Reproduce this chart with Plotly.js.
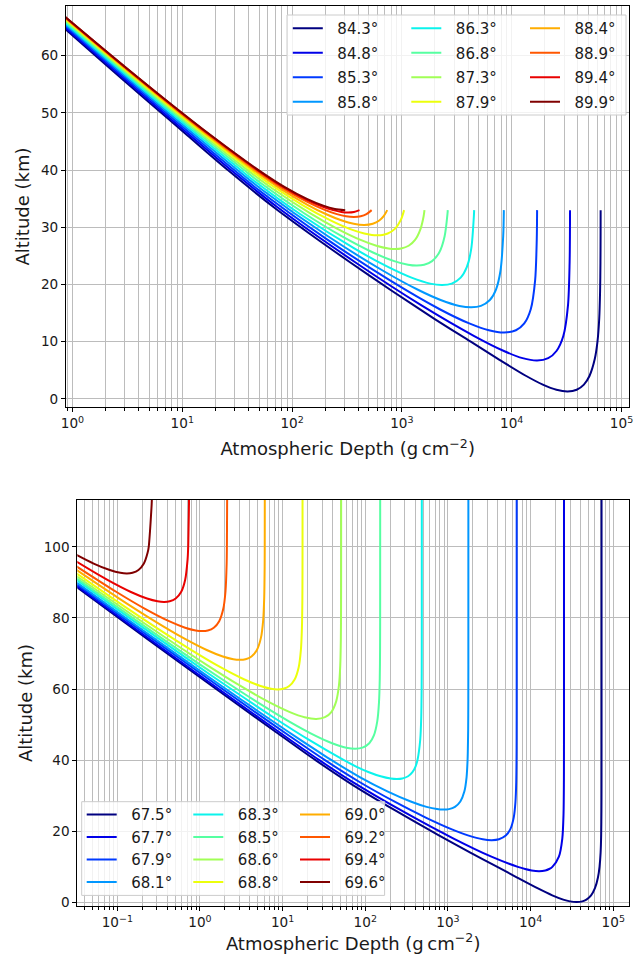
<!DOCTYPE html>
<html><head><meta charset="utf-8">
<script src="https://cdn.plot.ly/plotly-3.0.1.min.js"></script>
<style>html,body{margin:0;padding:0;background:#fff}#chart{width:634px;height:959px}</style>
</head><body><div id="chart"></div>
<script>
// ---------- legend labels ----------
const topLabels = ['84.3°','84.8°','85.3°','85.8°','86.3°','86.8°','87.3°','87.9°','88.4°','88.9°','89.4°','89.9°'];
const bottomLabels = ['67.5°','67.7°','67.9°','68.1°','68.3°','68.5°','68.6°','68.8°','69.0°','69.2°','69.4°','69.6°'];
const jetColors = ['#000080','#0000e8','#003aff','#0097ff','#0bf3ec','#56ffa1','#a1ff56','#ecff0b','#ffad00','#ff5700','#e90100','#800000'];

// ---------- tick values / labels ----------
const topXTicks = [1,10,100,1000,10000,100000];
const topXTickText = ['10<sup>0</sup>','10<sup>1</sup>','10<sup>2</sup>','10<sup>3</sup>','10<sup>4</sup>','10<sup>5</sup>'];
const topXMinor = [0.9,2,3,4,5,6,7,8,9,20,30,40,50,60,70,80,90,200,300,400,500,600,700,800,900,2000,3000,4000,5000,6000,7000,8000,9000,20000,30000,40000,50000,60000,70000,80000,90000];
const topYTicks = [0,10,20,30,40,50,60];
const botXTicks = [0.1,1,10,100,1000,10000,100000];
const botXTickText = ['10<sup>\u22121</sup>','10<sup>0</sup>','10<sup>1</sup>','10<sup>2</sup>','10<sup>3</sup>','10<sup>4</sup>','10<sup>5</sup>'];
const botXMinor = [0.04,0.05,0.06,0.07,0.08,0.09,0.2,0.3,0.4,0.5,0.6,0.7,0.8,0.9,2,3,4,5,6,7,8,9,20,30,40,50,60,70,80,90,200,300,400,500,600,700,800,900,2000,3000,4000,5000,6000,7000,8000,9000,20000,30000,40000,50000,60000,70000,80000,90000];
const botYTicks = [0,20,40,60,80,100];

// ---------- top panel: depth (g/cm2) and altitude (km) ----------
const t843Depth = [0.5439,1.623,4.884,11.23,25.99,68.08,147.8,339.4,814.9,1977,4237,7492,13563,19198,25561,32322,39083,45446,51081,57152,60407,62667,63829,64305,64496,64570];
const t843Alt   = [68,60,52,46,40,33.5,28.74,23.85,18.86,14,10,7,4,2.5,1.6,1.3,1.6,2.5,4,7,10,14,18.86,23.85,28.74,33];
const t848Depth = [0.5651,1.696,5.133,11.87,27.73,73.57,378.4,1509,4557,8496,12568,17034,21500,25572,29511,32559,33690,33988];
const t848Alt   = [68,60,52,46,40,33.5,23.85,16.35,10.99,8.375,7.119,6.7,7.119,8.375,10.99,16.35,23.85,33];
const t853Depth = [0.5867,1.768,5.394,12.58,29.63,45.67,208.0,772.9,2212,4108,6197,8561,10925,13014,14910,16349,16914,17036];
const t853Alt   = [68,60,52,46,40,37.05,27.89,20.76,15.67,13.19,12.0,11.6,12.0,13.19,15.67,20.76,27.89,33];
const t858Depth = [0.6085,1.845,5.672,13.31,31.74,52.87,210.5,679.9,1386,2253,3335,4289,5243,6326,7192,7899,8368,8483];
const t858Alt   = [68,60,52,46,40,36.61,28.47,22.36,19.12,17.29,16.254,16,16.254,17.29,19.12,22.36,28.47,33];
const t863Depth = [0.6293,1.920,5.951,14.11,34.09,44.03,117.2,371.5,754.2,1224,1810,2327,2844,3431,3900,4283,4537,4550];
const t863Alt   = [68,60,52,46,40,38.28,32.37,26.26,23.02,21.19,20.154,19.9,20.154,21.19,23.02,26.26,32.37,33];
const t868Depth = [0.6503,1.996,6.237,14.92,36.58,52.88,128.8,282.9,545.5,850.8,1138,1367,1595,1883,2188,2450,2605,2617];
const t868Alt   = [68,60,52,46,40,37.61,32.46,28.45,25.59,24.08,23.443,23.3,23.443,24.08,25.59,28.45,32.46,33];
const t873Depth = [0.6696,2.067,6.518,15.76,39.29,64.12,142.9,256.2,420.6,585.9,753.0,869.2,985.3,1152,1318,1482,1577,1606];
const t873Alt   = [68,60,52,46,40,36.95,32.56,29.78,27.79,26.77,26.29,26.2,26.29,26.77,27.79,29.78,31.94,33];
const t879Depth = [0.6865,2.131,6.774,16.55,42.05,69.04,127.7,219.2,334.2,454.2,532.2,598.7,665.2,743.1,863.3,978.2,1047.6];
const t879Alt   = [68,60,52,46,40,37.01,33.75,31.29,29.72,28.91,28.66,28.6,28.66,28.91,29.72,31.29,33];
const t884Depth = [0.7006,2.185,7.001,17.27,44.66,78.14,136.7,202.5,284.5,364.0,453.5,543.1,622.5,685.4,735.4];
const t884Alt   = [68,60,52,46,40,36.76,33.98,32.32,31.18,30.61,30.4,30.61,31.18,31.99,33];
const t889Depth = [0.7124,2.230,7.190,17.88,46.99,80.93,136.3,195.9,255.7,309.7,365.7,421.8,475.7,530.4];
const t889Alt   = [68,60,52,46,40,36.95,34.49,33.09,32.30,31.92,31.8,31.92,32.30,33];
const t894Depth = [0.7193,2.257,7.303,18.26,48.55,80.81,133.4,188.7,236.6,281.2,323.7,366.1,411.1];
const t894Alt   = [68,60,52,46,40,37.2,34.89,33.62,33.0,32.69,32.6,32.69,33];
const t899Depth = [0.7228,2.271,7.362,18.46,49.40,85.02,137.9,192.4,245.2,304.7];
const t899Alt   = [68,60,52,46,40,37.07,34.92,33.78,33.21,33.0];

// ---------- bottom panel ----------
const b675Depth = [0.027,0.22367,1.43994,7.81288,24.99,70.82,224.7,757.0,1865.7,3956.1,6875.8,12092,18256,24819,29946,36052,42158,47285,53848,60012,65228,68148,70238,71347,71879,72033,72079,72096,72103,72104];
const b675Alt   = [90.0,74.31,60.64,48.36,40,33,26,19,14,10,7,4,2,0.8,0.3,0.1,0.3,0.8,2,4,7,10,14,19,26,33,40,48.36,60.64,120];
const b677Depth = [0.027,0.13749,0.83565,4.28357,14.6522,27.8048,66.04,312.38,1169.7,3353.6,7007.2,8573.7,10266,12664,15062,16754,18321,21974,24158,25016,25262,25300,25313,25324,25327,25328];
const b677Alt   = [90.36,78.3,65.09,53.28,44.49,40,34.25,25.09,17.96,12.87,10,9.4,9.0,8.8,9.0,9.4,10,12.87,17.96,25.09,34.25,40,44.49,53.28,65.09,120];
const b679Depth = [0.02763,0.15478,0.83972,3.84372,12.0094,32.531,86.159,229.474,538.536,1096.70,1781.53,2637.17,3390.97,4144.77,5000.42,5685.24,6243.40,6552.47,6695.78,6749.41,6769.93,6778.10,6781.10,6781.94];
const b679Alt   = [90.68,78.04,65.76,54.87,46.86,40,33.79,28.25,23.86,20.62,18.79,17.754,17.5,17.754,18.79,20.62,23.86,28.25,33.79,40,46.86,54.87,65.76,120];
const b681Depth = [0.02763,0.15991,0.77433,3.16910,10.9814,27.3044,39.0491,85.6144,184.916,353.960,550.518,735.616,882.719,1029.82,1214.92,1411.48,1580.52,1679.82,1726.39,1738.13,1754.46,1762.27,1764.66,1765.44];
const b681Alt   = [91.1,78.3,66.95,56.99,48.42,42.33,40,35.26,31.25,28.39,26.88,26.243,26.1,26.243,26.88,28.39,31.25,35.26,40,42.33,48.42,56.99,66.95,120];
const b683Depth = [0.02827,0.15691,0.67824,2.48317,7.71508,20.4134,55.1508,76.3891,110.664,153.308,202.314,241.262,280.210,329.217,371.861,406.135,427.374,462.111,474.810,480.042,481.846,482.368,482.525];
const b683Alt   = [91.6,79.18,68.75,59.72,52.07,45.82,40,38.28,36.62,35.48,34.843,34.7,34.843,35.48,36.62,38.28,40,45.82,52.07,59.72,68.75,79.18,120];
const b685Depth = [0.02827,0.14112,0.54590,1.79062,4.99589,11.9081,24.3917,39.7072,58.8429,75.7032,92.5636,111.699,127.015,139.499,146.411,149.616,150.861,151.265,151.407];
const b685Alt   = [92.09,80.57,71.08,62.97,56.25,50.92,46.98,44.764,43.509,43.2,43.509,44.764,46.98,50.92,56.25,62.97,71.08,80.57,120];
const b686Depth = [0.02827,0.11940,0.41354,1.21711,3.05561,6.57823,12.2305,18.4583,25.5067,32.5546,38.7823,44.4346,47.9570,49.7958,50.5993,50.8935,50.9846,51.0129];
const b686Alt   = [92.68,82.49,73.92,66.73,60.94,56.54,53.53,52.083,51.6,52.083,53.53,56.54,60.94,66.73,73.92,82.49,92.68,120];
const b688Depth = [0.02827,0.09509,0.29520,0.78090,1.76817,3.44882,5.40302,7.24332,8.70581,10.1683,12.0086,13.9628,15.6435,16.6308,17.1164,17.3166,17.3834,17.4005,17.4117];
const b688Alt   = [93.37,84.92,77.27,71.02,66.15,62.68,60.846,60.074,59.9,60.074,60.846,62.68,66.15,71.02,77.27,84.92,93.37,100,120];
const b690Depth = [0.02893,0.10329,0.27310,0.61826,1.20585,1.88903,2.53240,3.04372,3.55503,4.19840,4.88161,5.46918,5.81434,5.98415,6.05851,6.07484,6.08744];
const b690Alt   = [94.18,85.57,79.32,74.45,70.98,69.146,68.374,68.2,68.374,69.146,70.98,74.45,79.32,85.57,94.18,100,120];
const b692Depth = [0.02893,0.09570,0.21649,0.42213,0.66124,0.88641,1.06535,1.24428,1.46948,1.70858,1.91422,2.03500,2.10179,2.11650,2.12238,2.13072,2.13072];
const b692Alt   = [95.17,87.42,82.55,79.08,77.246,76.474,76.3,76.474,77.246,79.08,82.55,87.42,95.17,100,105,112.83,120];
const b694Depth = [0.02893,0.07499,0.14612,0.22883,0.30671,0.36860,0.43050,0.50837,0.59106,0.66229,0.70833,0.72040,0.72759,0.73726,0.73726];
const b694Alt   = [96.47,90.75,87.28,85.446,84.674,84.5,84.674,85.446,87.28,90.75,96.47,100,105,112.83,120];
const b696Depth = [0.02893,0.05177,0.08111,0.10873,0.13068,0.15264,0.18025,0.20959,0.23243,0.23995,0.24959,0.25596,0.26136,0.26136];
const b696Alt   = [98.29,95.28,93.45,92.674,92.5,92.674,93.45,95.28,98.29,100,105,109,112.83,120];

const topSeries = [[t843Depth,t843Alt],[t848Depth,t848Alt],[t853Depth,t853Alt],[t858Depth,t858Alt],[t863Depth,t863Alt],[t868Depth,t868Alt],[t873Depth,t873Alt],[t879Depth,t879Alt],[t884Depth,t884Alt],[t889Depth,t889Alt],[t894Depth,t894Alt],[t899Depth,t899Alt]];
const botSeries = [[b675Depth,b675Alt],[b677Depth,b677Alt],[b679Depth,b679Alt],[b681Depth,b681Alt],[b683Depth,b683Alt],[b685Depth,b685Alt],[b686Depth,b686Alt],[b688Depth,b688Alt],[b690Depth,b690Alt],[b692Depth,b692Alt],[b694Depth,b694Alt],[b696Depth,b696Alt]];

const FONT = 'DejaVu Sans, sans-serif';
const TXT = '#1a1a1a';
const NB = '\u00a0\u00a0';
const traces = [];
topSeries.forEach((s,k)=>{
  traces.push({type:'scatter',mode:'lines',x:s[0],y:s[1],xaxis:'x',yaxis:'y',
    name:NB+topLabels[k],legendgroup:'t'+k,legend:['legend','legend2','legend3'][Math.floor(k/4)],
    line:{color:jetColors[k],width:2,shape:'spline',smoothing:0.8},hoverinfo:'skip'});
});
botSeries.forEach((s,k)=>{
  traces.push({type:'scatter',mode:'lines',x:s[0],y:s[1],xaxis:'x2',yaxis:'y2',
    name:NB+bottomLabels[k],legendgroup:'b'+k,legend:['legend4','legend5','legend6'][Math.floor(k/4)],
    line:{color:jetColors[k],width:2,shape:'spline',smoothing:0.8},hoverinfo:'skip'});
});

const GRID = '#bcbcbc';
function xAxis(dom, rng, anchor, tv, tt, minor, standoff){
  return {type:'log',domain:dom,range:rng,anchor:anchor,tickmode:'array',tickvals:tv,ticktext:tt,
    ticks:'outside',ticklen:4,tickwidth:1,tickcolor:'#000',showline:true,linecolor:'#000',linewidth:1,mirror:true,
    showgrid:true,gridcolor:GRID,gridwidth:1,zeroline:false,tickfont:{family:FONT,size:13.6,color:TXT},
    title:{text:'Atmospheric Depth (g\u2009cm<sup>\u22122</sup>)',font:{family:FONT,size:18,color:TXT},standoff:standoff},
    minor:{tickmode:'array',tickvals:minor,ticks:'outside',ticklen:2.5,tickwidth:1,tickcolor:'#000',showgrid:true,gridcolor:GRID,gridwidth:1}};
}
function yAxis(dom, rng, anchor, tv){
  return {domain:dom,range:rng,anchor:anchor,tickmode:'array',tickvals:tv,
    ticks:'outside',ticklen:4,tickwidth:1,tickcolor:'#000',showline:true,linecolor:'#000',linewidth:1,mirror:true,
    showgrid:true,gridcolor:GRID,gridwidth:1,zeroline:false,tickfont:{family:FONT,size:13.6,color:TXT},
    title:{text:'Altitude (km)',font:{family:FONT,size:18,color:TXT},standoff:6}};
}
function leg(xpx, ypx, gap){
  return {x:xpx/634,y:1-ypx/959,xanchor:'left',yanchor:'top',bgcolor:'rgba(0,0,0,0)',borderwidth:0,
    font:{family:FONT,size:15,color:TXT},traceorder:'grouped',tracegroupgap:gap};
}
const layout = {
  width:634,height:959,margin:{l:0,r:0,t:0,b:0},paper_bgcolor:'#fff',plot_bgcolor:'#fff',
  font:{family:FONT,color:TXT},showlegend:true,
  xaxis: xAxis([66/634,629.3/634],[-0.059,5.071],'y',topXTicks,topXTickText,topXMinor,12),
  yaxis: yAxis([1-407/959,1-6/959],[-1.42,68.69],'x',topYTicks),
  xaxis2: xAxis([77.3/634,629/634],[-1.484,5.19],'y2',botXTicks,botXTickText,botXMinor,5),
  yaxis2: yAxis([1-906/959,1-500/959],[-1.0,113.15],'x2',botYTicks),
  legend: leg(287.8,12.0,2.0), legend2: leg(406.3,12.0,2.0), legend3: leg(525,12.0,2.0),
  legend4: leg(81.7,798.3,0), legend5: leg(188.3,798.3,0), legend6: leg(295,798.3,0),
  shapes:[
    {type:'rect',xref:'paper',yref:'paper',x0:287/634,x1:626/634,y0:1-115/959,y1:1-15/959,line:{color:'#cccccc',width:1},fillcolor:'rgba(255,255,255,0.8)',layer:'above'},
    {type:'rect',xref:'paper',yref:'paper',x0:81.7/634,x1:384.6/634,y0:1-895.4/959,y1:1-801.7/959,line:{color:'#cccccc',width:1},fillcolor:'rgba(255,255,255,0.8)',layer:'above'}
  ]
};
Plotly.newPlot('chart',traces,layout,{staticPlot:true,displayModeBar:false});
</script></body></html>
